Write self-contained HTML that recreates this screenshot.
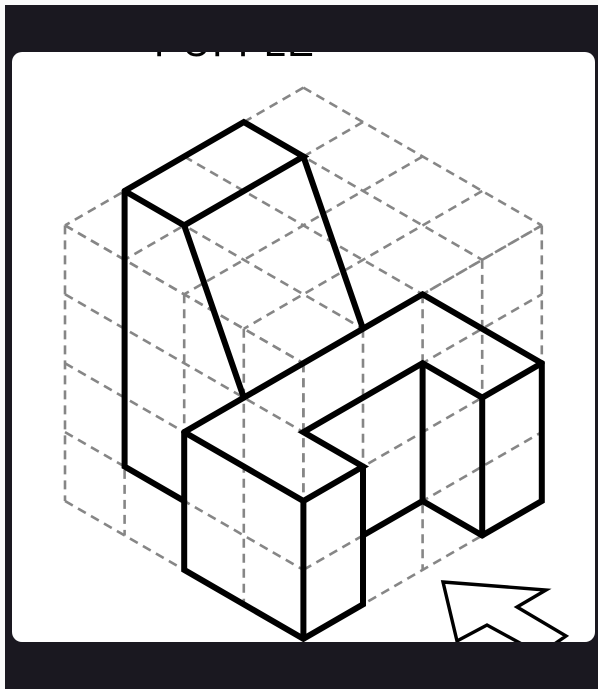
<!DOCTYPE html>
<html lang="en">
<head>
<meta charset="utf-8">
<title>Isometric puzzle</title>
<style>
html,body{margin:0;padding:0;background:#fafafa;}
body{width:598px;height:689px;position:relative;overflow:hidden;font-family:"Liberation Sans",sans-serif;}
#frame{position:absolute;left:5px;top:5px;width:593px;height:684px;background:#1a1820;}
#card{position:absolute;left:12px;top:52px;width:583px;height:590px;background:#fff;border-radius:10px;overflow:hidden;}
#card svg{position:absolute;left:-12px;top:-52px;}
#card svg text{font-family:"Liberation Sans",sans-serif;font-size:40px;letter-spacing:1.3px;fill:#000;}
</style>
</head>
<body>
<div id="frame"></div>
<div id="card">
<svg id="art" width="598" height="689" viewBox="0 0 598 689" xmlns="http://www.w3.org/2000/svg">
<text x="154" y="56">PUFFLE</text>
<g id="grid" fill="none" stroke="#868686" stroke-width="2.6" stroke-dasharray="9 6"></g>
<g id="solid" fill="none" stroke="#000" stroke-width="6" stroke-linejoin="miter" stroke-linecap="round"></g>
<polygon points="443,582 546,590 517,607 566,636 540,654 487,625 457,641" fill="#fff" stroke="#000" stroke-width="3.4" stroke-linejoin="miter"></polygon>
</svg>
</div>
<script>
var gridDivisions = [0, 1, 2, 3, 4];
var shapeOutlines = [
  [[-3,3],[-1,1],[0,2],[-2,4],[-3,3]],
  [[-3,3],[-3,11],[-2,12]],
  [[-2,4],[-1,9]],
  [[0,2],[1,7]],
  [[-2,10],[-1,9],[2,6],[4,8],[4,12],[3,13],[2,12],[1,13]],
  [[-2,10],[0,12],[1,11],[0,10],[2,8],[3,9],[4,8]],
  [[2,8],[2,12]],
  [[3,9],[3,13]],
  [[-2,10],[-2,14],[0,16],[1,15],[1,11]],
  [[0,12],[0,16]]
];
function xAt(u){return 303.4 + u * 59.6;}
function yAt(s){return 87.6 + s * 34.45;}
var NS = 'http://www.w3.org/2000/svg';
var gridGroup = document.getElementById('grid');
var solidGroup = document.getElementById('solid');
function addGridLine(u1, s1, u2, s2){
  var line = document.createElementNS(NS, 'line');
  line.setAttribute('x1', xAt(u1));
  line.setAttribute('y1', yAt(s1));
  line.setAttribute('x2', xAt(u2));
  line.setAttribute('y2', yAt(s2));
  
  
  gridGroup.appendChild(line);
}
gridDivisions.forEach(function(i){
  addGridLine(i, i, i - 4, i + 4);
  addGridLine(-i, i, 4 - i, 4 + i);
  addGridLine(-4, 4 + 2 * i, 0, 8 + 2 * i);
  addGridLine(0, 8 + 2 * i, 4, 4 + 2 * i);
  addGridLine(-i, 8 - i, -i, 16 - i);
  addGridLine(i, 8 - i, i, 16 - i);
});
shapeOutlines.forEach(function(path){
  var poly = document.createElementNS(NS, 'polyline');
  poly.setAttribute('points', path.map(function(p){return xAt(p[0]) + ',' + yAt(p[1]);}).join(' '));
  
  
  solidGroup.appendChild(poly);
});
</script>
</body>
</html>
